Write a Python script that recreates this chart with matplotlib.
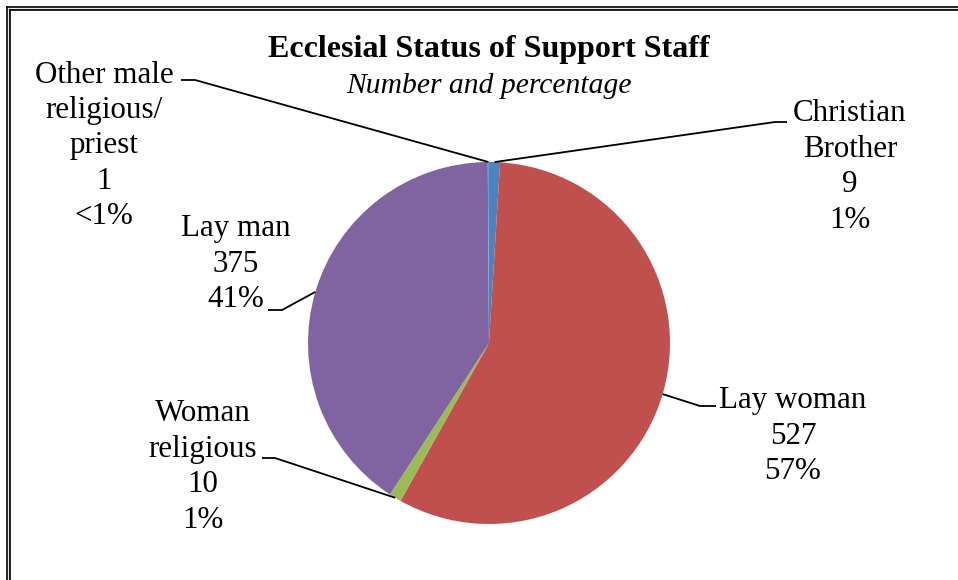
import numpy as np
import matplotlib
matplotlib.use("Agg")
import matplotlib.pyplot as plt
from matplotlib.lines import Line2D

# Data
categories = ["Christian Brother", "Lay woman", "Woman religious", "Lay man",
              "Other male religious/ priest"]
counts = [9, 527, 10, 375, 1]
pct_labels = ["1%", "57%", "1%", "41%", "<1%"]
label_lines = [["Christian", "Brother"], ["Lay woman"], ["Woman", "religious"],
               ["Lay man"], ["Other male", "religious/", "priest"]]
colors = ["#4F81BD", "#C0504D", "#9BBB59", "#8064A2", "#4BACC6"]

W, H = 958, 580
plt.rcParams['font.family'] = ['Liberation Serif', 'DejaVu Serif']

fig = plt.figure(figsize=(W / 100, H / 100), dpi=100)
ax = fig.add_axes([0, 0, 1, 1])


def Y(py):
    """Convert a top-down pixel row into data y."""
    return H - py


cx, cy, r = 489, Y(343), 181
wedges, _ = ax.pie(counts, colors=colors, startangle=90, counterclock=False,
                   center=(cx, cy), radius=r,
                   wedgeprops=dict(linewidth=0))
ax.set_xlim(0, W)
ax.set_ylim(0, H)
ax.set_aspect('equal')
ax.axis('off')

# Title
ax.text(489, Y(50), "Ecclesial Status of Support Staff", ha='center', va='center',
        fontsize=23, fontweight='bold')
ax.text(489, Y(86), "Number and percentage", ha='center', va='center',
        fontsize=21.3, fontstyle='italic')

# Label blocks: centre x, centre y (pixel rows), elbow point, line-end point
fs = 22.3
label_pos = [(850, 167), (793, 436), (203, 467), (236, 264), (104, 146)]
elbows = [((775, 122), (787, 122)),
          ((700, 406), (716, 406)),
          ((275, 458), (262, 458)),
          ((282, 310), (268, 310)),
          ((195, 80), (181, 80))]

for w, lines, n, p, (tx, ty), (e1, e2) in zip(wedges, label_lines, counts,
                                                pct_labels, label_pos, elbows):
    txt = "\n".join(lines + [str(n), p])
    ax.text(tx, Y(ty), txt, ha='center', va='center', fontsize=fs,
            linespacing=1.29)
    mid = np.deg2rad((w.theta1 + w.theta2) / 2)
    ex, ey = cx + r * np.cos(mid), cy + r * np.sin(mid)
    ax.plot([ex, e1[0], e2[0]], [ey, Y(e1[1]), Y(e2[1])], color='black',
            lw=1.3, solid_capstyle='butt')

# Double frame along the top and left edges
for off, col, lw in [(7, 'black', 1.2), (8.6, '#9a9a9a', 1.0), (10, 'black', 1.2)]:
    ax.add_line(Line2D([off, W], [Y(off), Y(off)], color=col, lw=lw))
    ax.add_line(Line2D([off, off], [Y(off), 0], color=col, lw=lw))

fig.savefig("out.png", dpi=100)
